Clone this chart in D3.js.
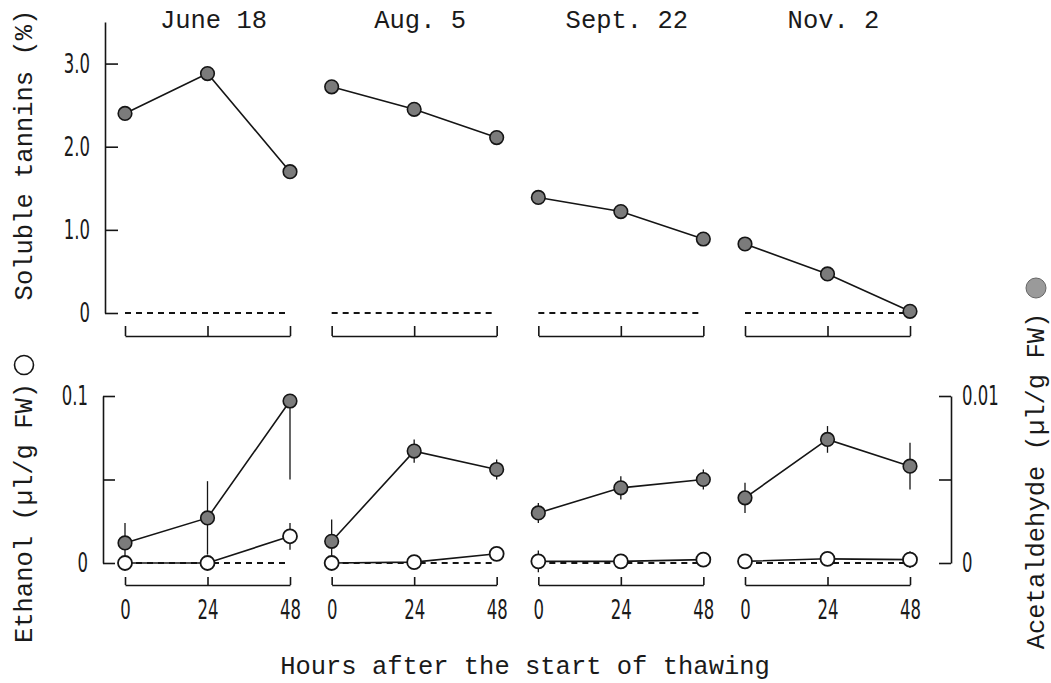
<!DOCTYPE html>
<meta charset="utf-8">
<script src="https://cdn.jsdelivr.net/npm/d3@7/dist/d3.min.js"></script>
<style>
    body { margin: 0; background: #fff; }
    svg text { fill: #1a1a1a; }
    .mono { font-family: "Courier New", Courier, "Nimbus Mono PS", "Nimbus Mono L", FreeMono, "Liberation Mono", monospace; font-size: 25.5px; }
    .num { font-family: "DejaVu Sans Condensed", "Liberation Sans Narrow", sans-serif; font-size: 27px; font-weight: 300; }
</style>
<svg width="1051" height="683"></svg>
<script>

    // data
    var dates = ["June 18", "Aug. 5", "Sept. 22", "Nov. 2"];
    var hours = [0, 24, 48];

    // soluble tannins (%), filled circles, top row
    var tannins = [
        [2.40, 2.88, 1.70],
        [2.72, 2.45, 2.11],
        [1.39, 1.22, 0.89],
        [0.83, 0.47, 0.02]
    ];

    // acetaldehyde (ul/g FW), filled circles, bottom row, right axis
    var acetaldehyde = [
        [0.0012, 0.0027, 0.0097],
        [0.0013, 0.0067, 0.0056],
        [0.0030, 0.0045, 0.0050],
        [0.0039, 0.0074, 0.0058]
    ];
    var acetErrUp = [
        [0.0012, 0.0022, 0],
        [0.0013, 0.0007, 0.0006],
        [0.0006, 0.0007, 0.0006],
        [0.0009, 0.0008, 0.0014]
    ];
    var acetErrDown = [
        [0.0012, 0.0022, 0.0047],
        [0.0013, 0.0007, 0.0006],
        [0.0006, 0.0007, 0.0006],
        [0.0009, 0.0008, 0.0014]
    ];

    // ethanol (ul/g FW), open circles, bottom row, left axis
    var ethanol = [
        [0, 0, 0.016],
        [0, 0.0005, 0.0055],
        [0.001, 0.001, 0.002],
        [0.001, 0.0025, 0.002]
    ];
    var ethErr = [
        [0, 0, 0.008],
        [0, 0, 0],
        [0.0065, 0, 0],
        [0, 0, 0.005]
    ];

    var topTicks = [0, 1, 2, 3];
    var topTickLabels = ["0", "1.0", "2.0", "3.0"];
    var ethTicks = [0, 0.05, 0.1];
    var ethTickLabels = ["0", "", "0.1"];
    var acetTicks = [0, 0.005, 0.01];
    var acetTickLabels = ["0", "", "0.01"];

    var svg = d3.select("svg");

    var panelX = d3.scalePoint().domain(dates).range([125, 745]);
    var xh = d3.scaleLinear().domain([0, 48]).range([0, 165]);

    var yTop = d3.scaleLinear().domain([0, 3.5]).range([313, 22]);
    var yEth = d3.scaleLinear().domain([0, 0.1]).range([563, 396]);
    var yAcet = d3.scaleLinear().domain([0, 0.01]).range([563, 396]);

    var ink = "#151515";

    // squeeze the digit labels so they look like the narrow figure font
    function narrow(sel) {
        sel.selectAll("text").each(function () {
            var x = +this.getAttribute("x") || 0;
            this.setAttribute("x", 0);
            this.setAttribute("transform", "translate(" + x + ",0) scale(0.68,1)");
        });
    }

    function styleAxis(g) {
        g.select(".domain").attr("stroke", ink).attr("stroke-width", 1.6);
        g.selectAll(".tick line").attr("stroke", ink).attr("stroke-width", 1.6);
        g.selectAll("text").attr("class", "num").attr("font-family", null).attr("font-size", null).attr("fill", "#1a1a1a");
    }

    // left axis, top row
    var gTopAxis = svg.append("g")
        .attr("transform", "translate(105,0)")
        .call(d3.axisLeft(yTop).tickValues(topTicks)
            .tickFormat(function (d, i) { return topTickLabels[i]; })
            .tickSizeInner(-13).tickSizeOuter(0).tickPadding(15));
    styleAxis(gTopAxis);
    narrow(gTopAxis);

    // left axis, bottom row (ethanol)
    var gEth = svg.append("g")
        .attr("transform", "translate(103,0)")
        .call(d3.axisLeft(yEth).tickValues(ethTicks)
            .tickFormat(function (d, i) { return ethTickLabels[i]; })
            .tickSizeInner(-12).tickSizeOuter(0).tickPadding(15));
    styleAxis(gEth);
    narrow(gEth);

    // right axis, bottom row (acetaldehyde)
    var gAcet = svg.append("g")
        .attr("transform", "translate(951,0)")
        .call(d3.axisRight(yAcet).tickValues(acetTicks)
            .tickFormat(function (d, i) { return acetTickLabels[i]; })
            .tickSizeInner(-12).tickSizeOuter(0).tickPadding(11));
    styleAxis(gAcet);
    narrow(gAcet);

    dates.forEach(function (date, p) {
        var ox = panelX(date);
        var g = svg.append("g").attr("transform", "translate(" + ox + ",0)");

        // title
        g.append("text").attr("class", "mono")
            .attr("x", xh(24) + 6).attr("y", 28)
            .attr("text-anchor", "middle")
            .text(date);

        // ---- top row ----
        g.append("line")
            .attr("x1", xh(0)).attr("x2", xh(48))
            .attr("y1", yTop(0)).attr("y2", yTop(0))
            .attr("stroke", ink).attr("stroke-width", 2)
            .attr("stroke-dasharray", "6,5");

        var bTop = g.append("g").attr("transform", "translate(0,336)")
            .call(d3.axisBottom(xh).tickValues(hours).tickFormat("")
                .tickSizeInner(-10).tickSizeOuter(0));
        styleAxis(bTop);

        var topPts = hours.map(function (h, i) { return [h, tannins[p][i]]; });
        g.append("path")
            .datum(topPts)
            .attr("fill", "none").attr("stroke", ink).attr("stroke-width", 1.6)
            .attr("d", d3.line().x(function (d) { return xh(d[0]); }).y(function (d) { return yTop(d[1]); }));
        g.selectAll(".tp").data(topPts).enter().append("circle")
            .attr("cx", function (d) { return xh(d[0]); })
            .attr("cy", function (d) { return yTop(d[1]); })
            .attr("r", 6.8)
            .attr("fill", "#7b7b7b").attr("stroke", ink).attr("stroke-width", 1.6);

        // ---- bottom row ----
        g.append("line")
            .attr("x1", xh(0)).attr("x2", xh(48))
            .attr("y1", yEth(0)).attr("y2", yEth(0))
            .attr("stroke", ink).attr("stroke-width", 1.8)
            .attr("stroke-dasharray", "6,5");

        var bBot = g.append("g").attr("transform", "translate(0,585)")
            .call(d3.axisBottom(xh).tickValues(hours)
                .tickFormat(d3.format("d"))
                .tickSizeInner(-8).tickSizeOuter(0).tickPadding(15));
        styleAxis(bBot);
        narrow(bBot);

        var acetPts = hours.map(function (h, i) {
            return { h: h, v: acetaldehyde[p][i], up: acetErrUp[p][i], dn: acetErrDown[p][i] };
        });
        var ethPts = hours.map(function (h, i) {
            return { h: h, v: ethanol[p][i], e: ethErr[p][i] };
        });

        // error bars
        g.selectAll(".ae").data(acetPts).enter().append("line")
            .attr("x1", function (d) { return xh(d.h); })
            .attr("x2", function (d) { return xh(d.h); })
            .attr("y1", function (d) { return yAcet(d.v + d.up); })
            .attr("y2", function (d) { return yAcet(d.v - d.dn); })
            .attr("stroke", ink).attr("stroke-width", 1.3);
        g.selectAll(".ee").data(ethPts.filter(function (d) { return d.e > 0; })).enter().append("line")
            .attr("x1", function (d) { return xh(d.h); })
            .attr("x2", function (d) { return xh(d.h); })
            .attr("y1", function (d) { return yEth(d.v + d.e); })
            .attr("y2", function (d) { return yEth(d.v - d.e); })
            .attr("stroke", ink).attr("stroke-width", 1.3);

        g.append("path")
            .datum(acetPts)
            .attr("fill", "none").attr("stroke", ink).attr("stroke-width", 1.6)
            .attr("d", d3.line().x(function (d) { return xh(d.h); }).y(function (d) { return yAcet(d.v); }));
        g.append("path")
            .datum(ethPts)
            .attr("fill", "none").attr("stroke", ink).attr("stroke-width", 1.6)
            .attr("d", d3.line().x(function (d) { return xh(d.h); }).y(function (d) { return yEth(d.v); }));

        g.selectAll(".ac").data(acetPts).enter().append("circle")
            .attr("cx", function (d) { return xh(d.h); })
            .attr("cy", function (d) { return yAcet(d.v); })
            .attr("r", 6.8)
            .attr("fill", "#7b7b7b").attr("stroke", ink).attr("stroke-width", 1.6);
        g.selectAll(".ec").data(ethPts).enter().append("circle")
            .attr("cx", function (d) { return xh(d.h); })
            .attr("cy", function (d) { return yEth(d.v); })
            .attr("r", 7)
            .attr("fill", "#fff").attr("stroke", ink).attr("stroke-width", 1.8);
    });

    // axis titles
    svg.append("text").attr("class", "mono")
        .attr("transform", "translate(32,155) rotate(-90)")
        .attr("text-anchor", "middle")
        .text("Soluble tannins (%)");

    svg.append("text").attr("class", "mono")
        .attr("transform", "translate(32,513) rotate(-90)")
        .attr("text-anchor", "middle")
        .text("Ethanol (µl/g FW)");
    svg.append("circle")
        .attr("cx", 24).attr("cy", 365).attr("r", 9.5)
        .attr("fill", "#fff").attr("stroke", ink).attr("stroke-width", 1.6);

    svg.append("text").attr("class", "mono")
        .attr("transform", "translate(1044,481) rotate(-90)")
        .attr("text-anchor", "middle")
        .text("Acetaldehyde (µl/g FW)");
    svg.append("circle")
        .attr("cx", 1036).attr("cy", 288).attr("r", 10)
        .attr("fill", "#9a9a9a").attr("stroke", "#666").attr("stroke-width", 1);

    svg.append("text").attr("class", "mono")
        .attr("x", 525).attr("y", 674)
        .attr("text-anchor", "middle")
        .text("Hours after the start of thawing");

</script>
